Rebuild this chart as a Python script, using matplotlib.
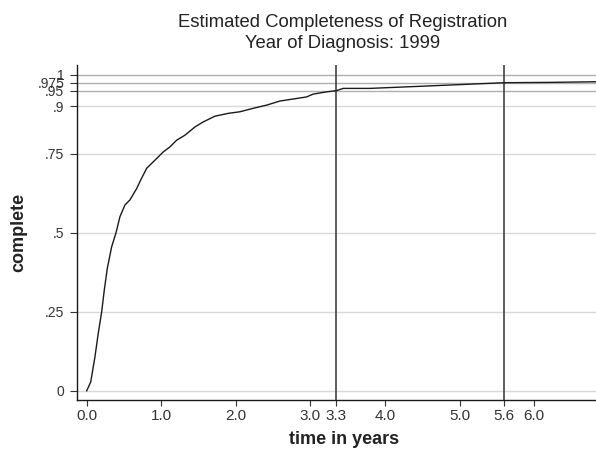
import matplotlib
matplotlib.use("Agg")
import matplotlib.pyplot as plt

plt.rcParams['font.family'] = ['Liberation Sans', 'DejaVu Sans']

# curve data (time in years, completeness)
time_years = [0.0, 0.054, 0.111, 0.155, 0.201, 0.236, 0.276, 0.335, 0.393, 0.446,
              0.513, 0.580, 0.670, 0.724, 0.804, 0.916, 1.027, 1.117, 1.206, 1.318,
              1.452, 1.563, 1.720, 1.898, 2.055, 2.233, 2.413, 2.591, 2.815, 2.949,
              3.038, 3.217, 3.351, 3.440, 3.798, 4.512, 5.600, 6.210, 6.827]
complete = [0.0, 0.028, 0.108, 0.182, 0.250, 0.319, 0.387, 0.456, 0.500, 0.551,
            0.588, 0.604, 0.640, 0.667, 0.704, 0.730, 0.756, 0.772, 0.793, 0.809,
            0.835, 0.851, 0.869, 0.878, 0.883, 0.894, 0.904, 0.917, 0.925, 0.930,
            0.939, 0.946, 0.950, 0.957, 0.957, 0.964, 0.975, 0.976, 0.978]

ytick_vals = [0, 0.25, 0.5, 0.75, 0.9, 0.95, 0.975, 1]
ytick_labels = ["0", ".25", ".5", ".75", ".9", ".95", ".975", "1"]
ref_levels = [0.95, 0.975, 1]
xtick_vals = [0, 1, 2, 3, 4, 5, 6]
xtick_labels = ["0.0", "1.0", "2.0", "3.0", "4.0", "5.0", "6.0"]
vline_vals = [3.35, 5.6]
vline_labels = ["3.3", "5.6"]

W, H = 596, 458
fig = plt.figure(figsize=(W / 100, H / 100), dpi=100)
ax = fig.add_axes([76.7 / W, (H - 400) / H, (W - 76.7) / W, (400 - 65) / H])

for v in ytick_vals:
    if v in ref_levels:
        continue
    ax.axhline(v, color="#d9d9d9", lw=1.0, zorder=1)
for v in ref_levels:
    ax.axhline(v, color="#b0b0b0", lw=1.0, zorder=1)
for v in vline_vals:
    ax.axvline(v, color="#333333", lw=1.1, zorder=2)

ax.plot(time_years, complete, color="#1a1a1a", lw=1.0, zorder=3)

ax.set_xlim(-0.134, 6.83)
ax.set_ylim(-0.029, 1.031)

ax.set_xticks(xtick_vals + vline_vals)
ax.set_xticklabels(xtick_labels + vline_labels)
ax.set_yticks(ytick_vals)
ax.set_yticklabels(ytick_labels)

ax.tick_params(axis='x', direction='out', length=4, width=0.8, color="#333333",
               labelsize=11, labelcolor="#333333", pad=2.5)
ax.tick_params(axis='y', direction='out', length=5, width=0.8, color="#333333",
               labelsize=10, labelcolor="#333333", pad=4)

for s in ["top", "right"]:
    ax.spines[s].set_visible(False)
for s in ["left", "bottom"]:
    ax.spines[s].set_color("#1a1a1a")
    ax.spines[s].set_linewidth(1.0)

fig.text(344 / W, 1 - 439 / H, "time in years", ha="center", va="center",
         fontsize=13, fontweight="bold", color="#222222")
fig.text(19 / W, 1 - 232 / H, "complete", ha="center", va="center", rotation=90,
         fontsize=13, fontweight="bold", color="#222222")

fig.text(343 / W, 1 - 27 / H, "Estimated Completeness of Registration",
         ha="center", va="baseline", fontsize=13.3, color="#222222")
fig.text(343 / W, 1 - 48.5 / H, "Year of Diagnosis: 1999",
         ha="center", va="baseline", fontsize=13.3, color="#222222")

fig.savefig("out.png", dpi=100)
